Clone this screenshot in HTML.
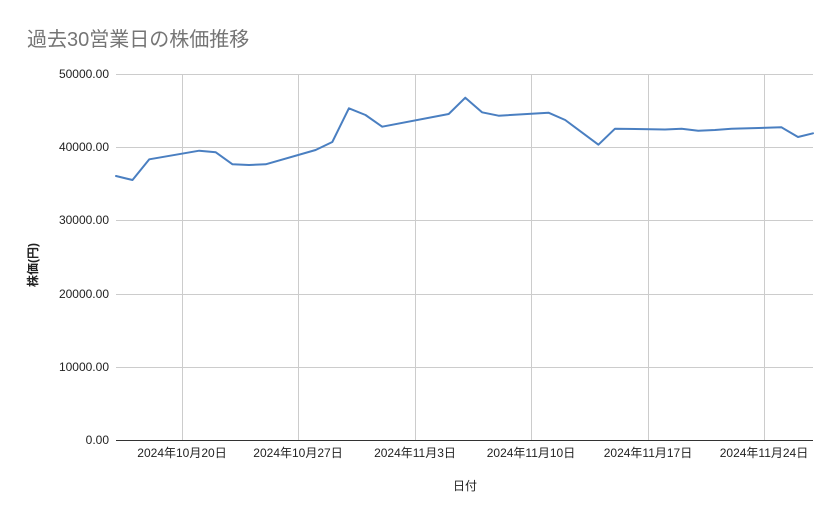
<!DOCTYPE html>
<html>
<head>
<meta charset="utf-8">
<style>
html,body{margin:0;padding:0;background:#fff;}
body{width:839px;height:519px;overflow:hidden;}
svg{display:block;}
text{font-family:"Liberation Sans","Noto Sans CJK JP",sans-serif;}
</style>
</head>
<body>
<svg width="839" height="519" viewBox="0 0 839 519" xmlns="http://www.w3.org/2000/svg">
  <rect width="839" height="519" fill="#fff"/>
  <text x="27" y="46" font-size="20" fill="#757575">過去30営業日の株価推移</text>

  <!-- horizontal gridlines -->
  <g stroke="#cccccc" stroke-width="1">
    <line x1="116" y1="74.5" x2="813" y2="74.5"/>
    <line x1="116" y1="147.5" x2="813" y2="147.5"/>
    <line x1="116" y1="220.5" x2="813" y2="220.5"/>
    <line x1="116" y1="294.5" x2="813" y2="294.5"/>
    <line x1="116" y1="367.5" x2="813" y2="367.5"/>
    <line x1="182.5" y1="74" x2="182.5" y2="440"/>
    <line x1="298.5" y1="74" x2="298.5" y2="440"/>
    <line x1="415.5" y1="74" x2="415.5" y2="440"/>
    <line x1="531.5" y1="74" x2="531.5" y2="440"/>
    <line x1="648.5" y1="74" x2="648.5" y2="440"/>
    <line x1="764.5" y1="74" x2="764.5" y2="440"/>
  </g>
  <line x1="116" y1="440.5" x2="813" y2="440.5" stroke="#333" stroke-width="1"/>

  <!-- y labels -->
  <g font-size="12" fill="#222" text-anchor="end">
    <text x="109" y="78">50000.00</text>
    <text x="109" y="151">40000.00</text>
    <text x="109" y="224">30000.00</text>
    <text x="109" y="298">20000.00</text>
    <text x="109" y="371">10000.00</text>
    <text x="109" y="444">0.00</text>
  </g>

  <!-- x labels -->
  <g font-size="12" fill="#222" text-anchor="middle">
    <text x="182" y="457">2024年10月20日</text>
    <text x="298" y="457">2024年10月27日</text>
    <text x="415" y="457">2024年11月3日</text>
    <text x="531" y="457">2024年11月10日</text>
    <text x="648" y="457">2024年11月17日</text>
    <text x="764" y="457">2024年11月24日</text>
  </g>

  <text x="465" y="490" font-size="12" fill="#222" text-anchor="middle">日付</text>
  <text transform="translate(37,265) rotate(-90)" font-size="12" fill="#222" text-anchor="middle" font-weight="bold">株価(円)</text>

  <polyline fill="none" stroke="#4a7fc1" stroke-width="2" stroke-linejoin="round" stroke-linecap="round"
    points="116,176 132.5,180 149.3,159.3 199.2,150.7 215.8,152.3 232.5,164.3 249,165 265.7,164.3 315.6,150 332.3,142 348.9,108.3 365.5,115 382.2,126.7 448.7,114 465.3,97.7 482,112.3 498.6,115.7 548.5,112.7 565.2,120 598.4,144.7 615,128.7 665,129.5 681.6,128.7 698.2,130.7 714.9,130 731.5,128.7 781.4,127.3 798,137 813,133.3"/>
</svg>
</body>
</html>
